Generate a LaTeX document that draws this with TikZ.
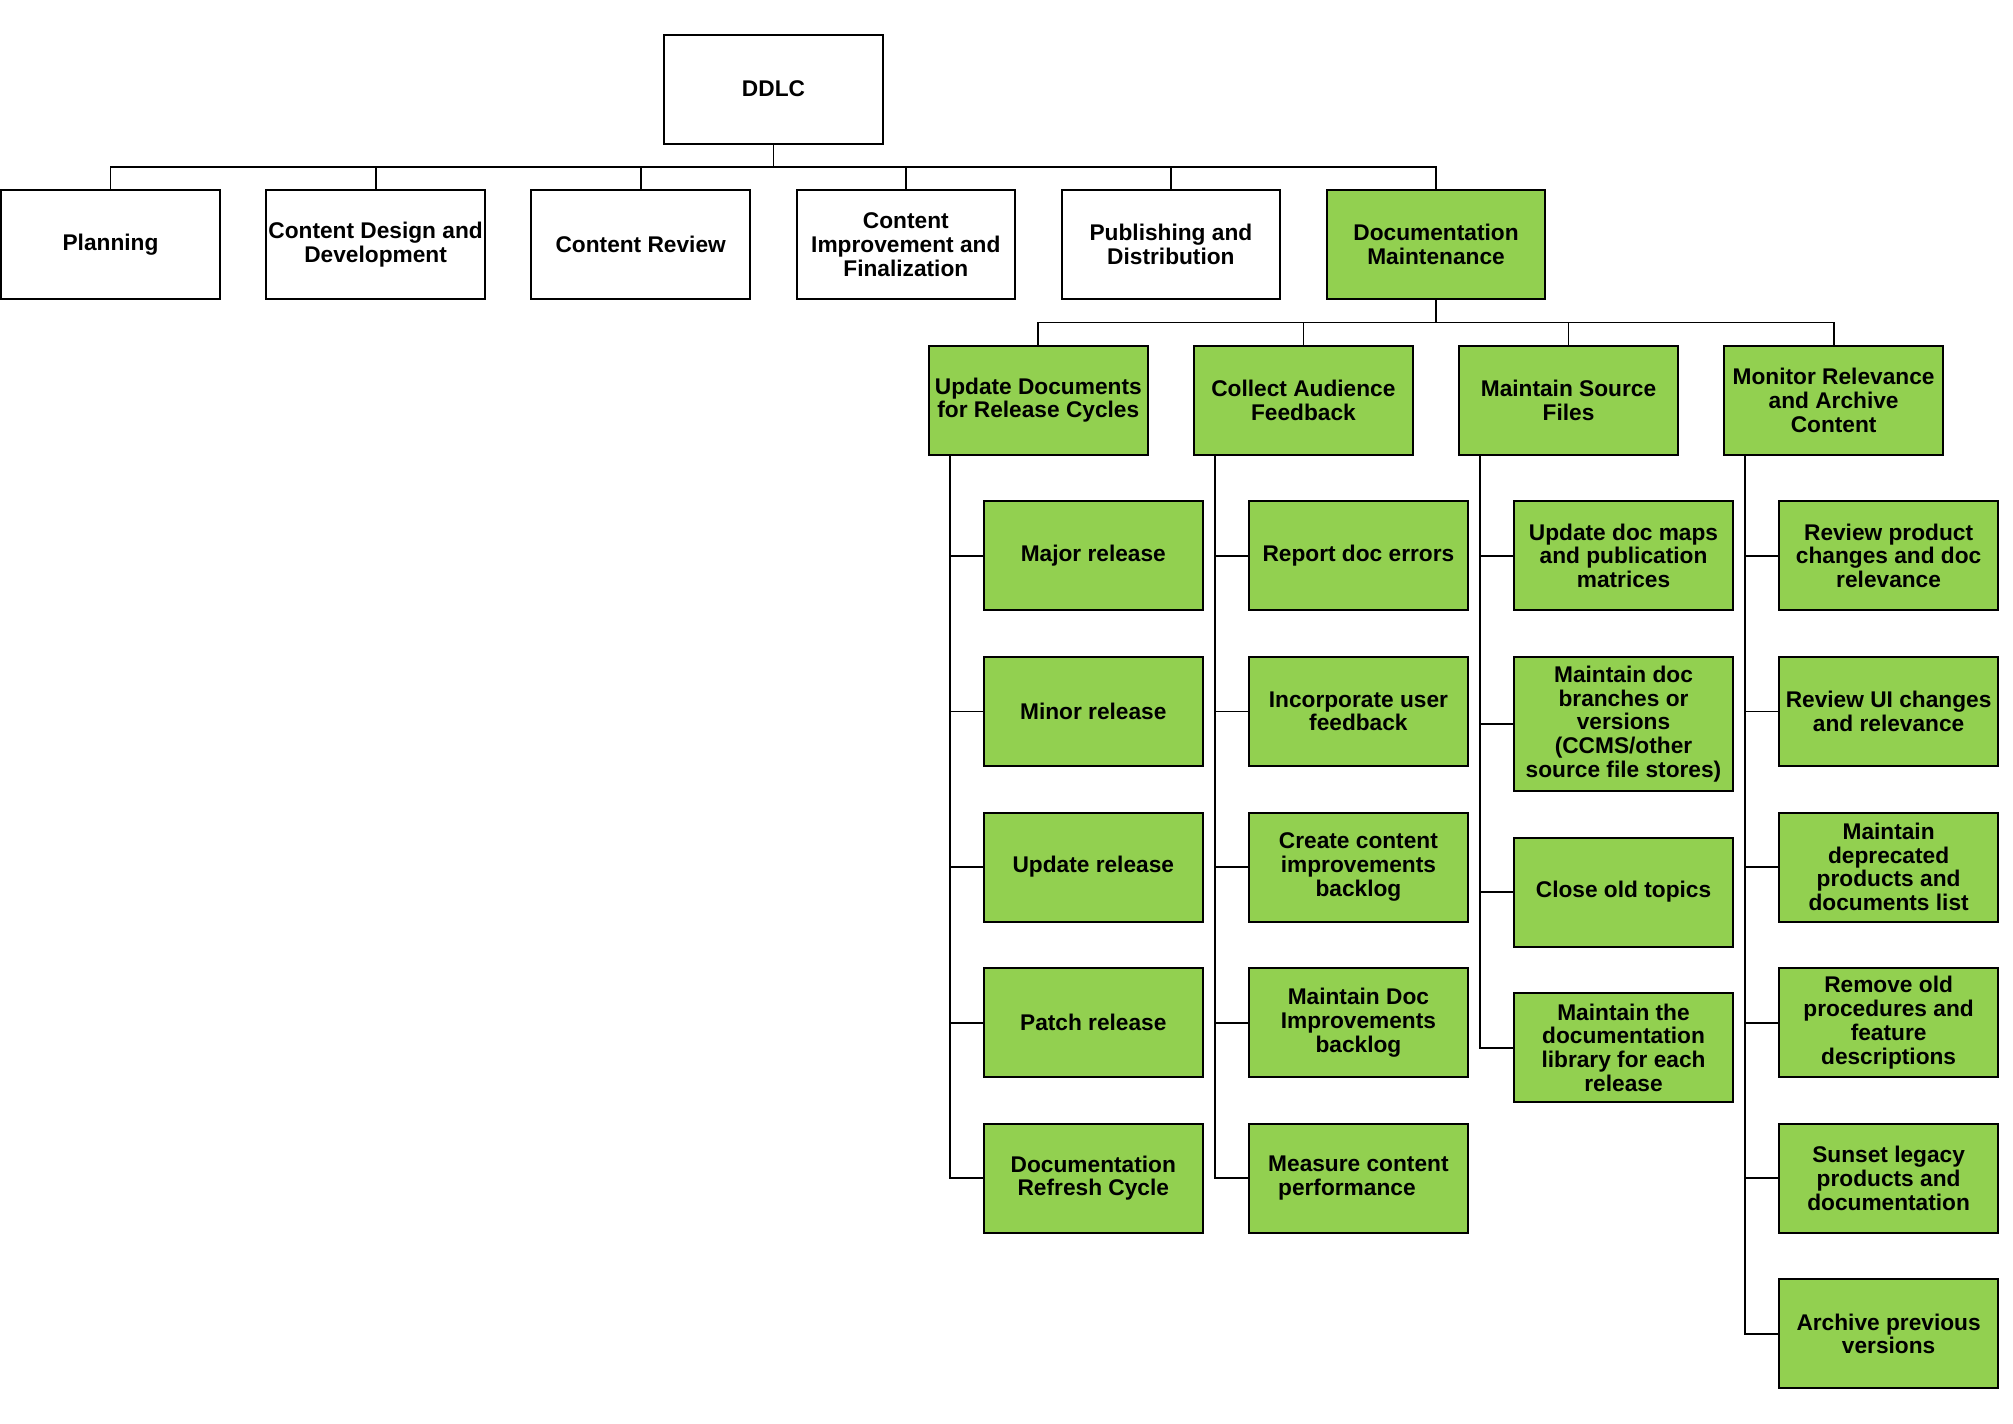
\documentclass[tikz,border=0pt]{standalone}
\usepackage{fontspec}
\setmainfont{Liberation Sans}
\usetikzlibrary{positioning}
\definecolor{leafgreen}{HTML}{92D050}

\begin{document}
\begin{tikzpicture}[x=1pt,y=1pt,
  box/.style={draw=black,line width=2pt,fill=white,align=center,inner sep=2pt,
    minimum width=218.5pt,minimum height=109pt,font=\fontsize{22.7}{23.7}\selectfont\bfseries},
  task/.style={box,fill=leafgreen},
  link/.style={line width=1.8pt,black},node distance=44.6pt]
\useasboundingbox (0,0) rectangle (2013,-1424);
% top level
\node[box] (ddlc) at (773.5,-89) {DDLC};
\node[box,below=of ddlc,xshift=-663pt] (plan) {Planning};
\node[box,right=of plan] (design) {Content Design and\\Development};
\node[box,right=of design] (review) {Content Review};
\node[box,right=of review] (improve) {Content\\Improvement and\\Finalization};
\node[box,right=of improve] (publish) {Publishing and\\Distribution};
\node[task,right=of publish] (maint) {Documentation\\Maintenance};
% maintenance branches
\node[task,below=of maint,xshift=-397.7pt] (release) {Update Documents\\for Release Cycles};
\node[task,right=of release] (feedback) {Collect Audience\\Feedback};
\node[task,right=of feedback] (source) {Maintain Source\\Files};
\node[task,right=of source] (monitor) {Monitor Relevance\\and Archive\\Content};
% release cycles
\node[task,below=of release,xshift=55pt] (r1) {Major release};
\node[task,below=of r1] (r2) {Minor release};
\node[task,below=of r2] (r3) {Update release};
\node[task,below=of r3] (r4) {Patch release};
\node[task,below=of r4] (r5) {Documentation\\Refresh Cycle};
% feedback
\node[task,below=of feedback,xshift=55pt] (f1) {Report doc errors};
\node[task,below=of f1] (f2) {Incorporate user\\feedback};
\node[task,below=of f2] (f3) {Create content\\improvements\\backlog};
\node[task,below=of f3] (f4) {Maintain Doc\\Improvements\\backlog};
\node[task,below=of f4] (f5) {Measure content\\performance\hspace*{23pt}};
% source files
\node[task,below=of source,xshift=55pt] (s1) {Update doc maps\\and publication\\matrices};
\node[task,below=of s1,minimum height=134pt] (s2) {Maintain doc\\branches or\\versions\\(CCMS/other\\source file stores)};
\node[task,below=of s2] (s3) {Close old topics};
\node[task,below=of s3] (s4) {Maintain the\\documentation\\library for each\\release};
% relevance and archive
\node[task,below=of monitor,xshift=55pt] (m1) {Review product\\changes and doc\\relevance};
\node[task,below=of m1] (m2) {Review UI changes\\and relevance};
\node[task,below=of m2] (m3) {Maintain\\deprecated\\products and\\documents list};
\node[task,below=of m3] (m4) {Remove old\\procedures and\\feature\\descriptions};
\node[task,below=of m4] (m5) {Sunset legacy\\products and\\documentation};
\node[task,below=of m5] (m6) {Archive previous\\versions};
% connectors
\foreach \c in {plan,design,review,improve,publish,maint}
  \draw[link] (ddlc.south) -- ++(0,-22.3) -| (\c.north);
\foreach \c in {release,feedback,source,monitor}
  \draw[link] (maint.south) -- ++(0,-22.3) -| (\c.north);
\foreach \i in {1,...,5}
  \draw[link] ([xshift=22pt]release.south west) |- (r\i.west);
\foreach \i in {1,...,5}
  \draw[link] ([xshift=22pt]feedback.south west) |- (f\i.west);
\foreach \i in {1,...,4}
  \draw[link] ([xshift=22pt]source.south west) |- (s\i.west);
\foreach \i in {1,...,6}
  \draw[link] ([xshift=22pt]monitor.south west) |- (m\i.west);
\end{tikzpicture}
\end{document}
